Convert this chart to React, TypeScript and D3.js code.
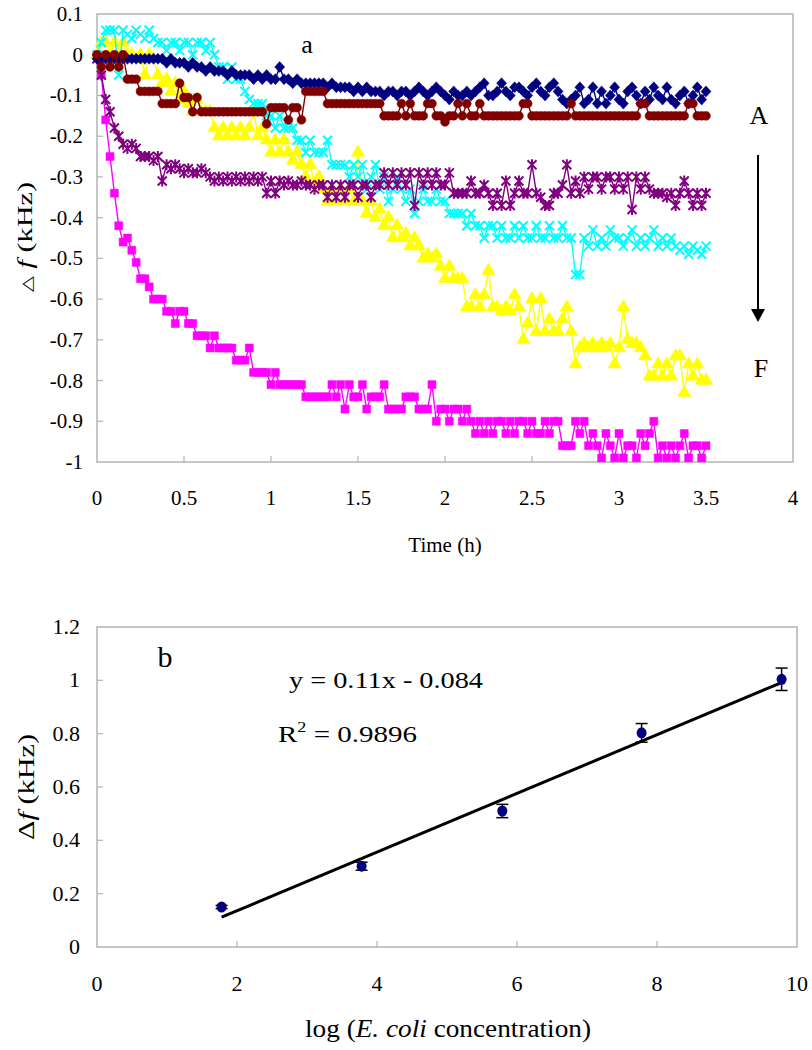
import React from 'react';
import * as d3 from 'd3';

// ---------- Panel a: frequency shift vs time ----------
const timeStepH = 0.025;
const sampleCount = 141;
const timesH = d3.range(sampleCount).map((i) => +(i * timeStepH).toFixed(3));

const seriesNavy = [
  -0.01, -0.01, -0.01, -0.01, -0.01, -0.01, -0.01, -0.01, -0.01, -0.01,
  -0.01, -0.01, -0.01, -0.01, -0.01, -0.01, -0.02, -0.01, -0.02, -0.02,
  -0.02, -0.03, -0.02, -0.03, -0.03, -0.04, -0.03, -0.04, -0.04, -0.04,
  -0.05, -0.04, -0.05, -0.05, -0.05, -0.05, -0.06, -0.05, -0.06, -0.05,
  -0.06, -0.06, -0.03, -0.06, -0.06, -0.07, -0.06, -0.07, -0.07, -0.07,
  -0.07, -0.07, -0.07, -0.08, -0.07, -0.08, -0.08, -0.08, -0.08, -0.09,
  -0.08, -0.09, -0.08, -0.09, -0.09, -0.09, -0.1, -0.09, -0.09, -0.1,
  -0.09, -0.09, -0.1, -0.09, -0.08, -0.09, -0.1, -0.09, -0.08, -0.09,
  -0.1, -0.11, -0.09, -0.1, -0.1, -0.09, -0.1, -0.09, -0.08, -0.07,
  -0.1, -0.1, -0.09, -0.07, -0.09, -0.1, -0.08, -0.08, -0.09, -0.1,
  -0.08, -0.07, -0.09, -0.1, -0.08, -0.07, -0.09, -0.11, -0.12, -0.11,
  -0.1, -0.08, -0.12, -0.11, -0.08, -0.12, -0.09, -0.12, -0.1, -0.08,
  -0.11, -0.12, -0.09, -0.08, -0.1, -0.12, -0.09, -0.11, -0.08, -0.1,
  -0.11, -0.08, -0.11, -0.12, -0.1, -0.09, -0.12, -0.1, -0.08, -0.11,
  -0.09,
];

const seriesDarkRed = [
  0, -0.03, 0, -0.03, 0, -0.03, 0, -0.06, -0.06, -0.06,
  -0.09, -0.09, -0.09, -0.09, -0.09, -0.12, -0.12, -0.12, -0.12, -0.07,
  -0.105, -0.105, -0.14, -0.105, -0.14, -0.14, -0.14, -0.14, -0.14, -0.14,
  -0.14, -0.14, -0.14, -0.14, -0.14, -0.14, -0.14, -0.14, -0.14, -0.17,
  -0.13, -0.13, -0.13, -0.13, -0.16, -0.13, -0.13, -0.16, -0.09, -0.09,
  -0.09, -0.09, -0.09, -0.12, -0.12, -0.12, -0.12, -0.12, -0.12, -0.12,
  -0.12, -0.12, -0.12, -0.12, -0.12, -0.12, -0.15, -0.15, -0.15, -0.15,
  -0.12, -0.15, -0.12, -0.15, -0.15, -0.15, -0.12, -0.12, -0.15, -0.15,
  -0.165, -0.15, -0.15, -0.12, -0.15, -0.12, -0.15, -0.15, -0.12, -0.15,
  -0.15, -0.15, -0.15, -0.15, -0.15, -0.15, -0.15, -0.15, -0.12, -0.12,
  -0.15, -0.15, -0.15, -0.15, -0.15, -0.15, -0.15, -0.15, -0.15, -0.12,
  -0.15, -0.15, -0.15, -0.15, -0.15, -0.15, -0.15, -0.15, -0.15, -0.15,
  -0.15, -0.15, -0.15, -0.15, -0.15, -0.12, -0.12, -0.15, -0.15, -0.15,
  -0.15, -0.15, -0.15, -0.15, -0.15, -0.15, -0.12, -0.12, -0.15, -0.15,
  -0.15,
];

const seriesPurple = [
  -0.01, -0.05, -0.11, -0.14, -0.18, -0.2, -0.22, -0.23, -0.22, -0.23,
  -0.25, -0.25, -0.25, -0.26, -0.25, -0.31, -0.27, -0.28, -0.27, -0.28,
  -0.29, -0.28, -0.29, -0.29, -0.28, -0.29, -0.3, -0.31, -0.3, -0.31,
  -0.3, -0.31, -0.3, -0.31, -0.3, -0.31, -0.3, -0.31, -0.3, -0.34,
  -0.31, -0.34, -0.31, -0.32, -0.31, -0.32, -0.32, -0.31, -0.32, -0.32,
  -0.33, -0.32, -0.32, -0.35, -0.32, -0.35, -0.32, -0.35, -0.32, -0.32,
  -0.35, -0.32, -0.32, -0.35, -0.32, -0.32, -0.29, -0.32, -0.29, -0.32,
  -0.29, -0.32, -0.29, -0.37, -0.29, -0.32, -0.29, -0.32, -0.29, -0.32,
  -0.32, -0.29, -0.34, -0.34, -0.34, -0.34, -0.31, -0.34, -0.34, -0.32,
  -0.34, -0.37, -0.34, -0.37, -0.31, -0.37, -0.34, -0.31, -0.34, -0.34,
  -0.27, -0.34, -0.35, -0.37, -0.37, -0.34, -0.34, -0.32, -0.27, -0.34,
  -0.31, -0.34, -0.3, -0.33, -0.3, -0.3, -0.33, -0.3, -0.3, -0.33,
  -0.3, -0.33, -0.3, -0.38, -0.3, -0.33, -0.3, -0.33, -0.34, -0.34,
  -0.34, -0.35, -0.34, -0.37, -0.34, -0.31, -0.34, -0.37, -0.34, -0.37,
  -0.34,
];

const seriesCyan = [
  0, 0.03, 0.06, 0.06, 0.06, -0.05, 0.06, 0.05, 0.04, 0.06,
  0.05, 0.04, 0.06, 0.04, 0.03, 0.03, 0.01, 0.03, 0.03, 0.01,
  0.03, 0.03, 0, 0.03, 0.03, 0.01, 0.03, 0, -0.03, -0.03,
  -0.06, -0.03, -0.06, -0.06, -0.09, -0.11, -0.12, -0.12, -0.12, -0.15,
  -0.15, -0.18, -0.15, -0.18, -0.18, -0.18, -0.21, -0.21, -0.24, -0.21,
  -0.24, -0.24, -0.24, -0.21, -0.27, -0.27, -0.27, -0.27, -0.3, -0.27,
  -0.3, -0.27, -0.33, -0.3, -0.27, -0.33, -0.3, -0.36, -0.33, -0.3,
  -0.33, -0.36, -0.33, -0.39, -0.36, -0.33, -0.36, -0.36, -0.33, -0.36,
  -0.36, -0.39, -0.39, -0.39, -0.39, -0.42, -0.39, -0.42, -0.42, -0.45,
  -0.42, -0.42, -0.45, -0.42, -0.45, -0.45, -0.42, -0.45, -0.42, -0.45,
  -0.45, -0.42, -0.45, -0.45, -0.42, -0.45, -0.45, -0.42, -0.45, -0.45,
  -0.54, -0.54, -0.45, -0.47, -0.43, -0.47, -0.45, -0.47, -0.43, -0.45,
  -0.45, -0.47, -0.45, -0.43, -0.47, -0.45, -0.47, -0.45, -0.43, -0.47,
  -0.45, -0.47, -0.45, -0.47, -0.48, -0.47, -0.49, -0.47, -0.48, -0.49,
  -0.47,
];

const seriesYellow = [
  0, 0.03, 0.03, 0, 0.03, 0, 0.03, 0, 0, -0.01,
  0, -0.05, 0, -0.01, -0.05, -0.07, -0.06, -0.09, -0.07, -0.11,
  -0.09, -0.12, -0.14, -0.11, -0.14, -0.14, -0.14, -0.18, -0.2, -0.18,
  -0.2, -0.18, -0.2, -0.18, -0.2, -0.18, -0.14, -0.2, -0.18, -0.21,
  -0.24, -0.21, -0.24, -0.21, -0.24, -0.26, -0.24, -0.27, -0.3, -0.27,
  -0.32, -0.3, -0.33, -0.36, -0.33, -0.36, -0.33, -0.36, -0.33, -0.36,
  -0.24, -0.36, -0.39, -0.36, -0.4, -0.38, -0.42, -0.4, -0.45, -0.42,
  -0.45, -0.44, -0.47, -0.45, -0.47, -0.5, -0.49, -0.5, -0.49, -0.52,
  -0.55, -0.52, -0.55, -0.55, -0.55, -0.62, -0.62, -0.59, -0.62, -0.59,
  -0.53, -0.62, -0.62, -0.63, -0.62, -0.63, -0.59, -0.62, -0.7, -0.66,
  -0.6, -0.68, -0.6, -0.68, -0.65, -0.68, -0.68, -0.65, -0.62, -0.68,
  -0.76, -0.72, -0.71, -0.72, -0.71, -0.72, -0.71, -0.72, -0.71, -0.76,
  -0.72, -0.62, -0.7, -0.71, -0.71, -0.72, -0.74, -0.79, -0.79, -0.76,
  -0.79, -0.76, -0.79, -0.74, -0.74, -0.83, -0.76, -0.79, -0.76, -0.8,
  -0.8,
];

const seriesMagenta = [
  0, -0.05, -0.16, -0.25, -0.34, -0.42, -0.46, -0.45, -0.48, -0.51,
  -0.55, -0.55, -0.57, -0.6, -0.6, -0.6, -0.63, -0.63, -0.66, -0.63,
  -0.63, -0.66, -0.66, -0.69, -0.69, -0.69, -0.72, -0.69, -0.72, -0.72,
  -0.72, -0.72, -0.75, -0.75, -0.75, -0.72, -0.78, -0.78, -0.78, -0.78,
  -0.81, -0.78, -0.81, -0.81, -0.81, -0.81, -0.81, -0.81, -0.84, -0.84,
  -0.84, -0.84, -0.84, -0.84, -0.81, -0.84, -0.81, -0.87, -0.81, -0.84,
  -0.84, -0.81, -0.87, -0.84, -0.84, -0.84, -0.81, -0.87, -0.87, -0.87,
  -0.87, -0.84, -0.84, -0.84, -0.87, -0.87, -0.87, -0.81, -0.9, -0.87,
  -0.87, -0.9, -0.87, -0.87, -0.9, -0.87, -0.9, -0.93, -0.9, -0.93,
  -0.9, -0.93, -0.9, -0.9, -0.93, -0.9, -0.93, -0.9, -0.9, -0.93,
  -0.9, -0.93, -0.93, -0.9, -0.93, -0.9, -0.9, -0.96, -0.96, -0.96,
  -0.9, -0.93, -0.9, -0.96, -0.93, -0.96, -0.99, -0.93, -0.96, -0.99,
  -0.93, -0.99, -0.96, -0.96, -0.99, -0.93, -0.96, -0.93, -0.9, -0.99,
  -0.96, -0.99, -0.96, -0.99, -0.96, -0.93, -0.99, -0.96, -0.96, -0.99,
  -0.96,
];

const timeTicks = [0, 0.5, 1, 1.5, 2, 2.5, 3, 3.5, 4];
const shiftTicks = [0.1, 0, -0.1, -0.2, -0.3, -0.4, -0.5, -0.6, -0.7, -0.8, -0.9, -1];

// ---------- Panel b: calibration ----------
const logConc = [1.78, 3.78, 5.79, 7.78, 9.78];
const shiftMean = [0.15, 0.303, 0.51, 0.803, 1.004];
const shiftErr = [0.006, 0.015, 0.025, 0.035, 0.042];
const fitSlope = 0.11;
const fitIntercept = -0.084;
const concTicks = [0, 2, 4, 6, 8, 10];
const calibTicks = [0, 0.2, 0.4, 0.6, 0.8, 1, 1.2];

const SERIF = "Liberation Serif, Times New Roman, serif";
const FRAME = '#b4b4b4';

type MarkerKind = 'diamond' | 'circle' | 'square' | 'triangle' | 'x' | 'star';

const seriesList: { values: number[]; color: string; marker: MarkerKind }[] = [
  { values: seriesMagenta, color: '#ff00ff', marker: 'square' },
  { values: seriesYellow, color: '#ffff00', marker: 'triangle' },
  { values: seriesCyan, color: '#00ffff', marker: 'x' },
  { values: seriesPurple, color: '#800080', marker: 'star' },
  { values: seriesNavy, color: '#000080', marker: 'diamond' },
  { values: seriesDarkRed, color: '#800000', marker: 'circle' },
];

function markerPath(kind: MarkerKind): string {
  switch (kind) {
    case 'diamond':
      return 'M0,-5.5L5,0L0,5.5L-5,0Z';
    case 'circle':
      return d3.symbol(d3.symbolCircle, 62)() as string;
    case 'square':
      return d3.symbol(d3.symbolSquare, 64)() as string;
    case 'triangle':
      return d3.symbol(d3.symbolTriangle, 75)() as string;
    case 'x':
      return 'M-4.5,-4.5L4.5,4.5M-4.5,4.5L4.5,-4.5';
    case 'star':
      return 'M-4.5,-4.5L4.5,4.5M-4.5,4.5L4.5,-4.5M0,-5.5L0,5.5';
  }
}

const fmt = (v: number) => String(+v.toFixed(1));

export default function App() {
  const xA = d3.scaleLinear().domain([0, 4]).range([97, 793]);
  const yA = d3.scaleLinear().domain([-1, 0.1]).range([462, 14]);
  const xB = d3.scaleLinear().domain([0, 10]).range([97, 797]);
  const yB = d3.scaleLinear().domain([0, 1.2]).range([947, 627]);

  const lineGen = d3
    .line<number>()
    .x((_, i) => xA(timesH[i]))
    .y((v) => yA(v));

  const fitX0 = logConc[0];
  const fitX1 = logConc[logConc.length - 1];

  return (
    <svg
      width={812}
      height={1050}
      style={{ position: 'absolute', left: 0, top: 0, background: '#fff', fontFamily: SERIF }}
    >
      <rect x={0} y={0} width={812} height={1050} fill="#fff" />

      {/* ----- Panel a ----- */}
      <rect x={97} y={14} width={696} height={448} fill="none" stroke={FRAME} strokeWidth={1.5} />
      {timeTicks.slice(1, -1).map((t) => (
        <line key={'xt' + t} x1={xA(t)} x2={xA(t)} y1={462} y2={456} stroke={FRAME} strokeWidth={1.2} />
      ))}
      {shiftTicks.slice(1, -1).map((v) => (
        <line key={'yt' + v} x1={97} x2={103} y1={yA(v)} y2={yA(v)} stroke={FRAME} strokeWidth={1.2} />
      ))}
      {timeTicks.map((t) => (
        <text key={'xl' + t} x={xA(t)} y={505} fontSize={21} textAnchor="middle" fontFamily={SERIF}>
          {fmt(t)}
        </text>
      ))}
      {shiftTicks.map((v) => (
        <text key={'yl' + v} x={83} y={yA(v) + 7} fontSize={21} textAnchor="end" fontFamily={SERIF}>
          {fmt(v)}
        </text>
      ))}

      {seriesList.map((s, si) => (
        <g key={'s' + si}>
          <path d={lineGen(s.values) as string} fill="none" stroke={s.color} strokeWidth={1.4} />
          {s.values.map((v, i) => {
            const stroked = s.marker === 'x' || s.marker === 'star';
            return (
              <path
                key={i}
                d={markerPath(s.marker)}
                transform={`translate(${xA(timesH[i])},${yA(v)})`}
                fill={stroked ? 'none' : s.color}
                stroke={s.color}
                strokeWidth={stroked ? 2 : 0.5}
              />
            );
          })}
        </g>
      ))}

      <text x={307} y={53} fontSize={26} textAnchor="middle" fontFamily={SERIF}>a</text>
      <text x={759} y={124} fontSize={26} textAnchor="middle" fontFamily={SERIF}>A</text>
      <text x={761} y={377} fontSize={26} textAnchor="middle" fontFamily={SERIF}>F</text>
      <line x1={758} x2={758} y1={155} y2={310} stroke="#000" strokeWidth={2} />
      <path d="M751,309 L765,309 L758,322 Z" fill="#000" />

      <text x={445} y={552} fontSize={21} textAnchor="middle" fontFamily={SERIF}>Time (h)</text>
      <text
        transform="translate(32,237) rotate(-90)"
        fontSize={22}
        textAnchor="middle"
        fontFamily={SERIF}
        textLength={110}
        lengthAdjust="spacingAndGlyphs"
      >
        <tspan fontSize={15} fontFamily="DejaVu Sans, sans-serif">△</tspan>
        <tspan> </tspan>
        <tspan fontStyle="italic">f</tspan>
        <tspan> (kHz)</tspan>
      </text>

      {/* ----- Panel b ----- */}
      <rect x={97} y={627} width={700} height={320} fill="none" stroke={FRAME} strokeWidth={1.5} />
      {concTicks.slice(1, -1).map((c) => (
        <line key={'bxt' + c} x1={xB(c)} x2={xB(c)} y1={947} y2={941} stroke={FRAME} strokeWidth={1.2} />
      ))}
      {calibTicks.slice(1, -1).map((v) => (
        <line key={'byt' + v} x1={97} x2={103} y1={yB(v)} y2={yB(v)} stroke={FRAME} strokeWidth={1.2} />
      ))}
      {concTicks.map((c) => (
        <text key={'bxl' + c} x={xB(c)} y={991} fontSize={22} textAnchor="middle" fontFamily={SERIF}>
          {c}
        </text>
      ))}
      {calibTicks.map((v) => (
        <text key={'byl' + v} x={80} y={yB(v) + 7} fontSize={22} textAnchor="end" fontFamily={SERIF}>
          {fmt(v)}
        </text>
      ))}

      <line
        x1={xB(fitX0)}
        y1={yB(fitSlope * fitX0 + fitIntercept)}
        x2={xB(fitX1)}
        y2={yB(fitSlope * fitX1 + fitIntercept)}
        stroke="#000"
        strokeWidth={3}
      />
      {logConc.map((c, i) => (
        <g key={'pt' + i}>
          <line x1={xB(c)} x2={xB(c)} y1={yB(shiftMean[i] - shiftErr[i])} y2={yB(shiftMean[i] + shiftErr[i])} stroke="#000" strokeWidth={1.5} />
          <line x1={xB(c) - 6} x2={xB(c) + 6} y1={yB(shiftMean[i] + shiftErr[i])} y2={yB(shiftMean[i] + shiftErr[i])} stroke="#000" strokeWidth={1.5} />
          <line x1={xB(c) - 6} x2={xB(c) + 6} y1={yB(shiftMean[i] - shiftErr[i])} y2={yB(shiftMean[i] - shiftErr[i])} stroke="#000" strokeWidth={1.5} />
          <ellipse cx={xB(c)} cy={yB(shiftMean[i])} rx={5} ry={5.5} fill="#000080" />
        </g>
      ))}

      <text x={165} y={667} fontSize={30} textAnchor="middle" fontFamily={SERIF}>b</text>
      <text x={289} y={688} fontSize={24} fontFamily={SERIF} textLength={194} lengthAdjust="spacingAndGlyphs">
        y = 0.11x - 0.084
      </text>
      <text x={278} y={742} fontSize={24} fontFamily={SERIF} textLength={139} lengthAdjust="spacingAndGlyphs">
        R<tspan fontSize={15} dy={-10}>2</tspan>
        <tspan dy={10}> = 0.9896</tspan>
      </text>

      <text
        x={448}
        y={1037}
        fontSize={25}
        textAnchor="middle"
        fontFamily={SERIF}
        textLength={286}
        lengthAdjust="spacingAndGlyphs"
      >
        log (<tspan fontStyle="italic">E. coli</tspan> concentration)
      </text>
      <text
        transform="translate(34,787) rotate(-90)"
        fontSize={24}
        textAnchor="middle"
        fontFamily={SERIF}
        textLength={106}
        lengthAdjust="spacingAndGlyphs"
      >
        Δ<tspan fontStyle="italic">f</tspan>  (kHz)
      </text>
    </svg>
  );
}
